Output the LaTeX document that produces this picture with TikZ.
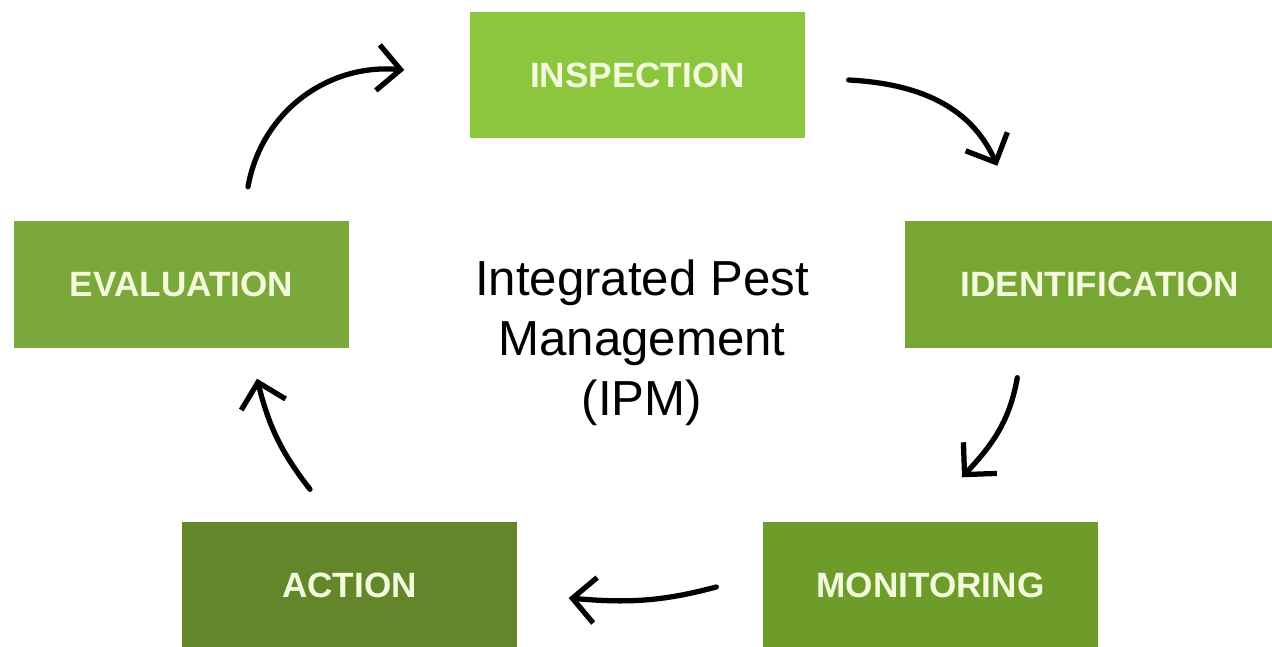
\documentclass[tikz,border=0pt]{standalone}
\usepackage{fontspec}
\setmainfont{Liberation Sans}
\usepackage{tikz}
\usetikzlibrary{positioning,arrows.meta}
\definecolor{leafA}{HTML}{8CC63F}
\definecolor{leafB}{HTML}{7AA83A}
\definecolor{leafC}{HTML}{77A634}
\definecolor{leafD}{HTML}{6E9C2A}
\definecolor{leafE}{HTML}{64862A}
\definecolor{paletext}{HTML}{F3FBDC}
\tikzset{
stage/.style={minimum width=3.35cm,minimum height=1.27cm,inner sep=0pt,
text=paletext,font=\fontsize{10}{12}\selectfont\bfseries},
title/.style={align=center,font=\fontsize{14}{17}\selectfont},
cycarrow/.style={-{Straight Barb[length=6.5pt,width=13pt,line width=1.5pt]},line width=1.5pt,line cap=round,black}
}

\begin{document}
\begin{tikzpicture}
\useasboundingbox (0,0) rectangle (12.72,-6.47);
\clip (0,0) rectangle (12.72,-6.47);
% the five steps of the cycle
\node[stage,fill=leafA,minimum height=1.26cm] (insp) at (6.375,-0.75) {INSPECTION};
\node[stage,fill=leafC,minimum width=3.9cm] (ident) at (11.0,-2.845) {IDENTIFICATION};
\node[stage,fill=leafD] (monit) at (9.305,-5.855) {MONITORING};
\node[stage,fill=leafE] (action) at (3.495,-5.855) {ACTION};
\node[stage,fill=leafB] (evalu) at (1.815,-2.845) {EVALUATION};
\node[title] (ipm) at (6.42,-3.43) {Integrated Pest\\Management\\(IPM)};
% curved arrows between the steps
\draw[cycarrow] ([shift={(0.665,0.335)}]evalu.north) to[out=80,in=175] ([shift={(-0.65,0.05)}]insp.west);
\draw[cycarrow] ([shift={(0.43,-0.05)}]insp.east) to[out=-3,in=114] ([shift={(0.93,0.545)}]ident.north west);
\draw[cycarrow] ([shift={(1.13,-0.29)}]ident.south west) to[out=-100,in=47] ([shift={(0.315,0.44)}]monit.north);
\draw[cycarrow] ([shift={(-0.46,-0.015)}]monit.west) to[out=195,in=-5] ([shift={(0.51,-0.125)}]action.east);
\draw[cycarrow] ([shift={(-0.395,0.32)}]action.north) to[out=128,in=-76] ([shift={(0.755,-0.30)}]evalu.south);
\end{tikzpicture}
\end{document}
